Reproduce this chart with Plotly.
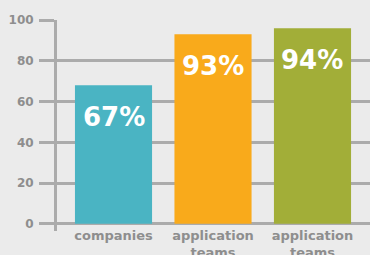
import plotly.graph_objects as go

categories = ["companies", "application<br>teams", "application<br>teams"]
values = [68, 93, 96]
labels = ["67%", "93%", "94%"]
colors = ["#4ab4c3", "#f9aa1b", "#a2ae38"]
y_ticks = [0, 20, 40, 60, 80, 100]

x_pos = list(range(len(categories)))
grid = "#ababab"

fig = go.Figure()
fig.add_trace(go.Bar(
    x=x_pos, y=values, width=0.775,
    marker=dict(color=colors, line=dict(width=0)),
    hoverinfo="skip",
))

for xp, v, t in zip(x_pos, values, labels):
    fig.add_annotation(x=xp, y=v, text=t, showarrow=False, yanchor="middle",
                       yshift=-32,
                       font=dict(family="DejaVu Sans", size=26, color="white",
                                 weight="bold"))

fig.update_layout(
    width=370, height=255,
    margin=dict(l=57, r=0, t=20, b=24),
    paper_bgcolor="#ebebeb", plot_bgcolor="#ebebeb",
    showlegend=False,
    bargap=0.2,
)
fig.update_xaxes(
    range=[-0.568, 2.578], automargin=False,
    tickmode="array", tickvals=x_pos, ticktext=categories,
    showgrid=False, zeroline=False, showline=False, ticks="",
    tickfont=dict(family="DejaVu Sans", size=13, color="#8e8e8e", weight="bold"),
    ticklabelstandoff=-5,
)
fig.update_yaxes(
    range=[-3.5, 100], automargin=False,
    tickmode="array", tickvals=y_ticks,
    showgrid=True, gridcolor=grid, gridwidth=3,
    zeroline=False,
    showline=True, linecolor=grid, linewidth=3,
    ticks="outside", ticklen=15, tickwidth=3, tickcolor=grid,
    tickfont=dict(family="DejaVu Sans", size=12, color="#8e8e8e", weight="bold"),
    ticklabelstandoff=3,
)

fig.write_html(
    "out.html",
    config={"displayModeBar": False},
    post_script="document.body.style.margin='0';document.body.style.overflow='hidden';",
)
